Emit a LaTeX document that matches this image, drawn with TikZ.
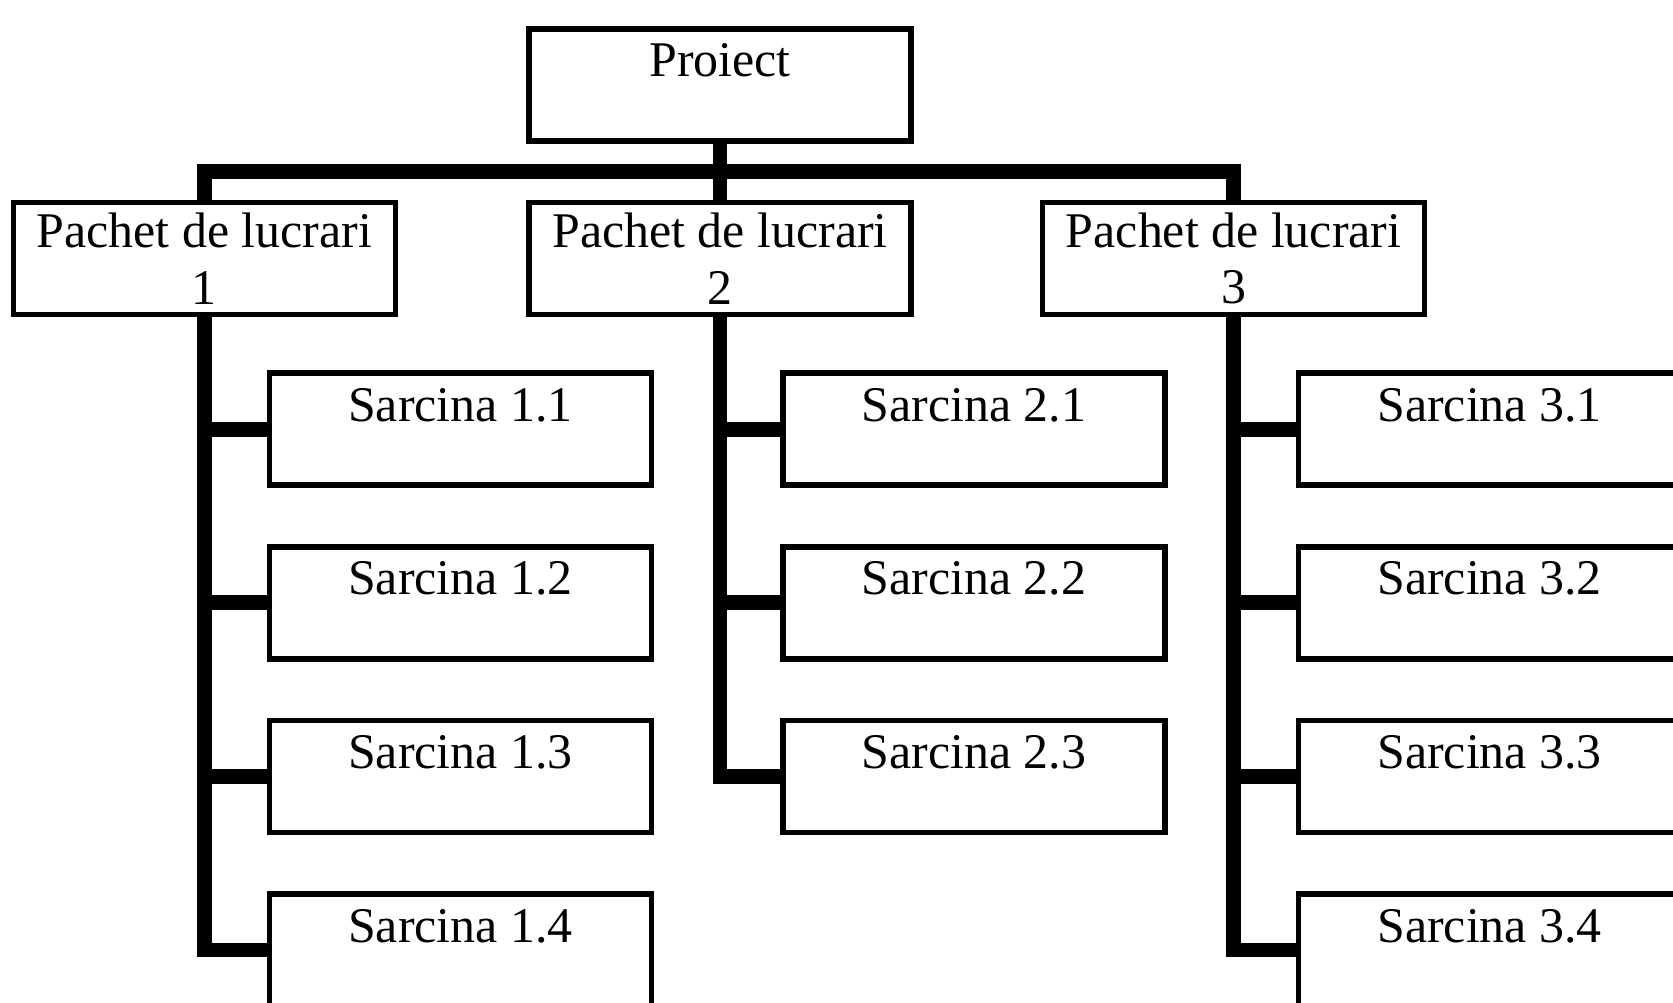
\documentclass[tikz,border=0pt]{standalone}
\usepackage{fontspec}
\setmainfont{Liberation Serif}
\usepackage{tikz}
\usetikzlibrary{positioning,calc}

\begin{document}
\begin{tikzpicture}[conn/.style = {line width=4.2pt}, node distance=0.56cm and 1.26cm]
		\tikzset{box/.style={draw,rectangle,line width=1.6pt,fill=white,minimum width=3.82cm,minimum height=1.12cm,font=\fontsize{14.2}{16}\selectfont}}
		\tikzset{task/.style={box,inner ysep=0pt,text height=0.48cm,text depth=0.64cm}}

		\useasboundingbox (0,0) rectangle (16.73,-10.03);
		\clip (0,0) rectangle (16.73,-10.03);

		% Project
		\node[task] (proj) at (7.20,-0.85) {Proiect};

		% Work packages
		\node[box, align=center, inner ysep=0.05cm, below=0.56cm of proj] (pk2) {Pachet de lucrari\\2};
		\node[box, align=center, inner ysep=0.05cm, left=1.28cm of pk2] (pk1) {Pachet de lucrari\\1};
		\node[box, align=center, inner ysep=0.05cm, right=of pk2] (pk3) {Pachet de lucrari\\3};

		% Tasks 1
		\node[task, below=0.53cm of pk1, xshift=2.56cm] (s11) {Sarcina 1.1};
		\node[task, below=of s11] (s12) {Sarcina 1.2};
		\node[task, below=of s12] (s13) {Sarcina 1.3};
		\node[task, below=of s13] (s14) {Sarcina 1.4};

		% Tasks 2
		\node[task, below=0.53cm of pk2, xshift=2.54cm] (s21) {Sarcina 2.1};
		\node[task, below=of s21] (s22) {Sarcina 2.2};
		\node[task, below=of s22] (s23) {Sarcina 2.3};

		% Tasks 3
		\node[task, below=0.53cm of pk3, xshift=2.56cm] (s31) {Sarcina 3.1};
		\node[task, below=of s31] (s32) {Sarcina 3.2};
		\node[task, below=of s32] (s33) {Sarcina 3.3};
		\node[task, below=of s33] (s34) {Sarcina 3.4};

		% Connectors
		\coordinate (mid) at ($(proj.south)!0.5!(pk2.north)$);
		\draw [conn] (pk1.north) |- (mid) -| (pk3.north);
		\draw [conn] (proj) -- (pk2);

		\draw [conn] (pk1.south) |- (s14.west);
		\draw [conn] (pk1.south |- s11.west) -- (s11.west);
		\draw [conn] (pk1.south |- s12.west) -- (s12.west);
		\draw [conn] (pk1.south |- s13.west) -- (s13.west);

		\draw [conn] (pk2.south) |- (s23.west);
		\draw [conn] (pk2.south |- s21.west) -- (s21.west);
		\draw [conn] (pk2.south |- s22.west) -- (s22.west);

		\draw [conn] (pk3.south) |- (s34.west);
		\draw [conn] (pk3.south |- s31.west) -- (s31.west);
		\draw [conn] (pk3.south |- s32.west) -- (s32.west);
		\draw [conn] (pk3.south |- s33.west) -- (s33.west);

	\end{tikzpicture}
\end{document}
